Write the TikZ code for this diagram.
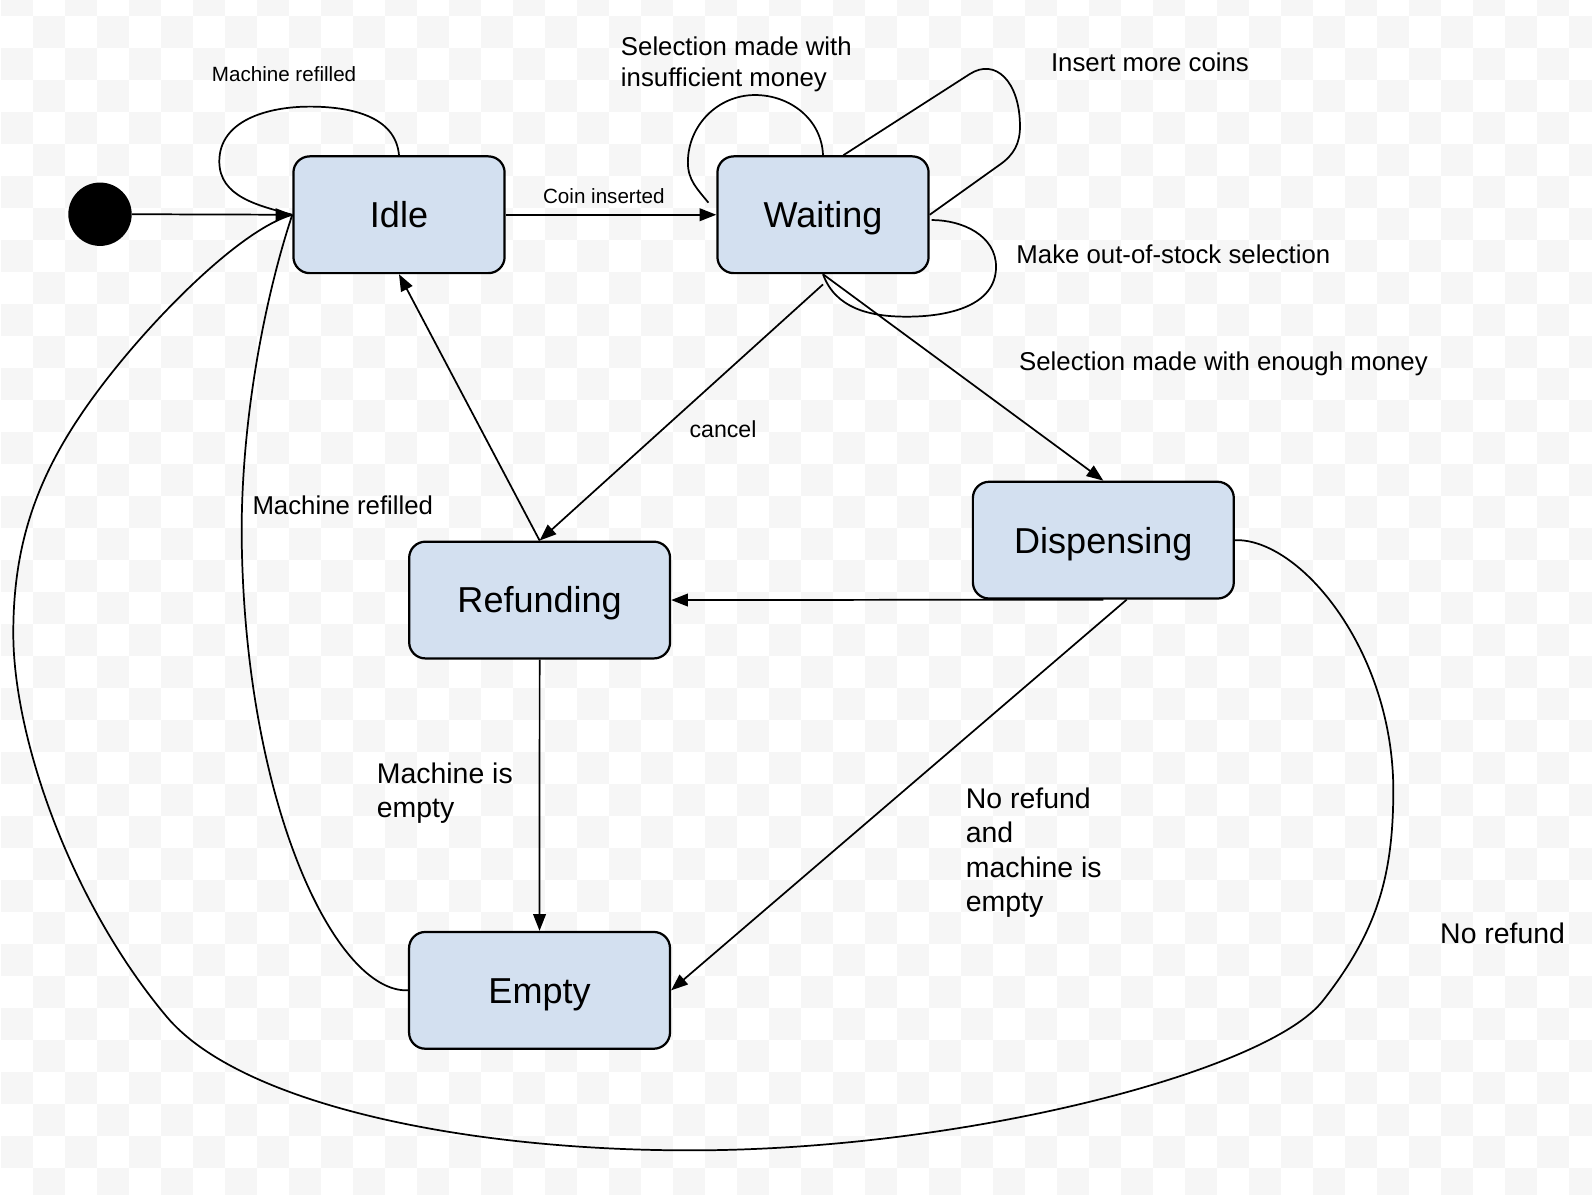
\documentclass[tikz,border=0pt]{standalone}
\usepackage{fontspec}
\setmainfont{Liberation Sans}
\usetikzlibrary{arrows.meta}
\definecolor{boxblue}{RGB}{211,224,240}
\definecolor{cellgray}{RGB}{246,246,246}
\begin{document}
\begin{tikzpicture}[x=1pt,y=1pt,
  stbox/.style={draw=black, line width=2.2pt, rounded corners=16pt, fill=boxblue, inner sep=0pt,
    font=\fontsize{35.5}{40}\selectfont, text height=25.4pt, text depth=0pt, minimum height=115pt},
  narrowbox/.style={stbox, minimum width=208pt},
  widebox/.style={stbox, minimum width=257pt},
  conn/.style={line width=1.7pt, draw=black},
  arr/.style={conn, -{Triangle[length=16.5pt,width=12.5pt]}},
  lblS/.style={inner sep=0pt, anchor=base west, font=\fontsize{20.3}{24}\selectfont},
  lblL/.style={inner sep=0pt, anchor=base west, font=\fontsize{25.4}{30}\selectfont},
  lblM/.style={inner sep=0pt, anchor=base west, font=\fontsize{22.8}{27}\selectfont},
  lblXL/.style={inner sep=0pt, anchor=base west, font=\fontsize{28}{34}\selectfont},
]
\useasboundingbox (0,0) rectangle (1568,-1176);
% checkered background
\begin{scope}
\clip (0,0) rectangle (1568,-1176);
\fill[white] (0,0) rectangle (1568,-1176);
\foreach \r in {-1,...,36} {
  \pgfmathtruncatemacro{\off}{mod(\r+3,2)}
  \foreach \c in {0,...,24} {
    \fill[cellgray] ({1+31.52*(2*\c+\off)}, {-15.76-31.52*\r}) rectangle ++(31.52,-31.52);
  }
}
\end{scope}

% states
\node[circle, fill=black, minimum size=62.4pt, inner sep=0pt] (init) at (98.5,-211) {};
\node[narrowbox] (Idle) at (393,-211.5) {Idle};
\node[narrowbox] (Waiting) at (810.6,-211.5) {Waiting};
\node[widebox] (Dispensing) at (1086.7,-532) {Dispensing};
\node[widebox] (Refunding) at (531.5,-591) {Refunding};
\node[widebox] (Empty) at (531.4,-975.4) {Empty};

% helper coordinates
\coordinate (cancelStart) at ([yshift=-10pt]Waiting.south);
\coordinate (insEnd) at (697.7,-199.6);
\coordinate (moreStart) at ([xshift=20pt]Waiting.north);
\coordinate (stockStart) at (917.6,-216.7);
\coordinate (emptyStart) at ([xshift=23pt]Dispensing.south);

% connectors
\draw[arr] (init.east) -- (Idle.west);
\draw[conn] (Idle.north) to[out=95,in=0] (305,-105) to[out=180,in=90] (216,-159) to[out=-90,in=165] (Idle.west);
\draw[arr] (Idle.east) -- (Waiting.west);
\draw[conn] (Waiting.north) to[out=92,in=0] (743.6,-93.6) to[out=180,in=90] (677.5,-160) to[out=-90,in=129] (insEnd);
\draw[conn] (moreStart) -- (955,-73) .. controls (980.2,-56.7) and (1004.6,-80) .. (1004.6,-124.8)
  to[out=-90,in=35] (985,-162) -- (Waiting.east);
\draw[conn] (stockStart) to[out=0,in=90] (981,-262.7) to[out=-90,in=0] (893,-311.9) to[out=180,in=-70] (Waiting.south);
\draw[arr] (cancelStart) -- (Refunding.north);
\draw[arr] (Waiting.south) -- (Dispensing.north);
\draw[arr] (Refunding.north) -- (Idle.south);
\draw[arr] (Dispensing.south) -- (Refunding.east);
\draw[arr] (emptyStart) -- (Empty.east);
\draw[arr] (Refunding.south) -- (Empty.north);
\draw[conn] (Empty.west) .. controls (330,-978) and (240,-790) .. (238,-525)
  .. controls (238,-400) and (265,-280) .. (Idle.west);
\draw[conn] (Dispensing.east) .. controls (1280,-530) and (1372,-640) .. (1372.3,-778)
  to[out=-90,in=52] (1303.4,-985)
  .. controls (1250,-1055) and (950,-1133) .. (680,-1133)
  .. controls (450,-1133) and (234.7,-1085.3) .. (164.2,-1001.4)
  .. controls (67.6,-886) and (13,-724) .. (13.1,-623.8)
  .. controls (13,-520) and (45.7,-446.7) .. (114.9,-361.2)
  .. controls (165.2,-299) and (241,-224.8) .. (Idle.west);

% labels
\node[lblS] (lblIdleLoop) at (208.5,-80.5) {Machine refilled};
\node[lblS] (lblCoin) at (534.7,-200.9) {Coin inserted};
\node[lblL] (lblInsuff) at (611.4,-54.3) {\vtop{\baselineskip=30.6pt\hbox{Selection made with}\hbox{insufficient money}}};
\node[lblL] (lblMore) at (1035,-70) {Insert more coins};
\node[lblL] (lblStock) at (1000.9,-259.4) {Make out-of-stock selection};
\node[lblL] (lblEnough) at (1003.6,-365.1) {Selection made with enough money};
\node[lblM] (lblCancel) at (679,-430.7) {cancel};
\node[lblL] (lblRefill) at (248.5,-506.3) {Machine refilled};
\node[lblXL] (lblMEmpty) at (371,-771.5) {\vtop{\baselineskip=33.5pt\hbox{Machine is}\hbox{empty}}};
\node[lblXL] (lblNoRefEmpty) at (951.1,-796.2) {\vtop{\baselineskip=34pt\hbox{No refund}\hbox{and}\hbox{machine is}\hbox{empty}}};
\node[lblXL] (lblNoRef) at (1418.3,-929.1) {No refund};
\end{tikzpicture}
\end{document}
